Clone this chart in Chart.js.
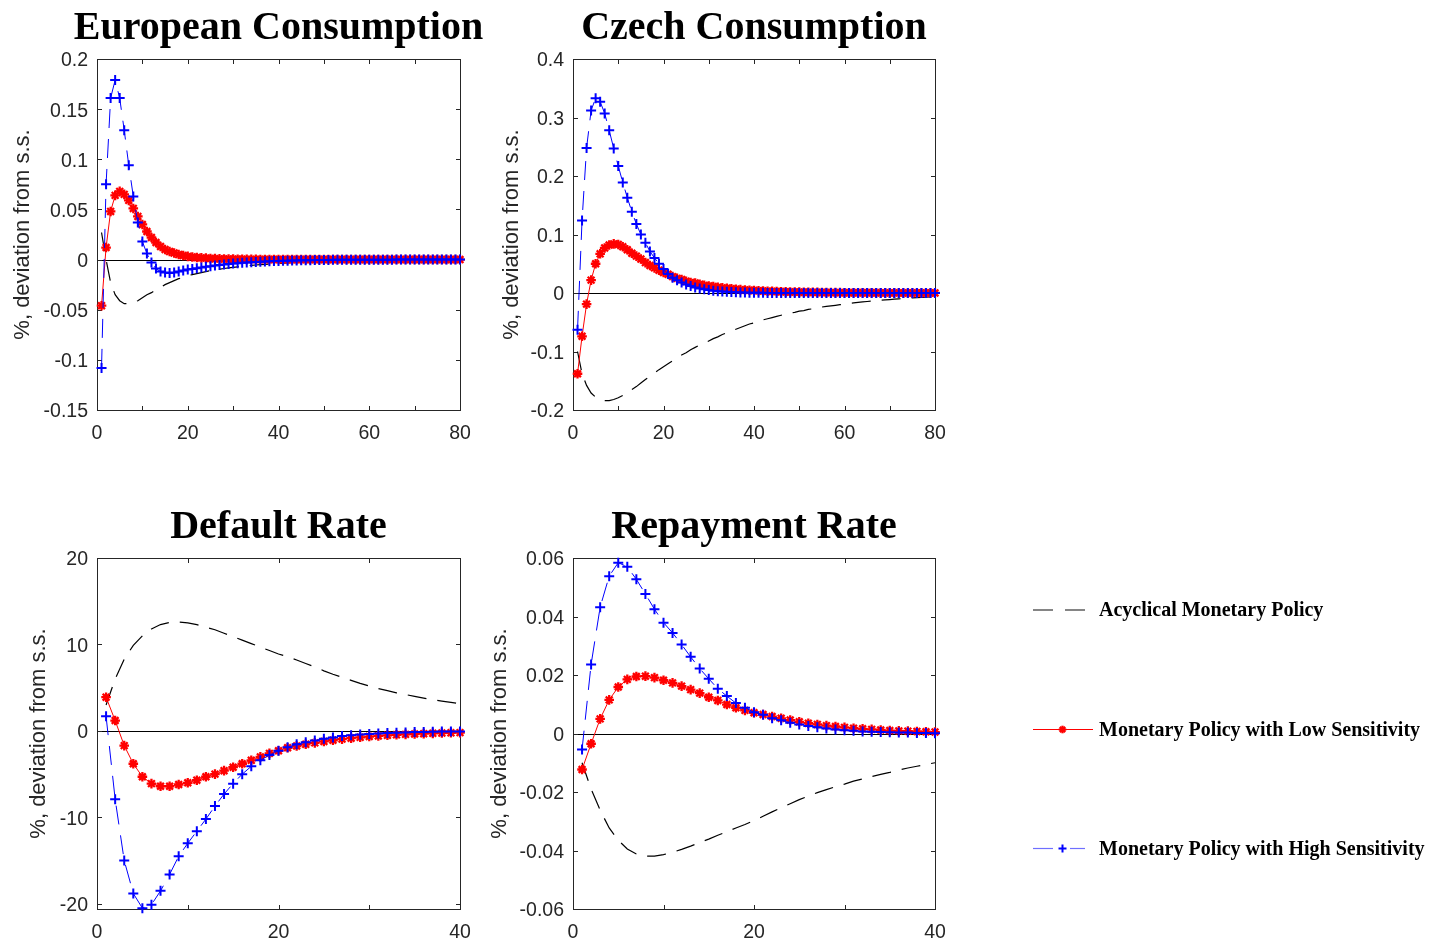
<!DOCTYPE html>
<html><head><meta charset="utf-8">
<script src="https://cdn.jsdelivr.net/npm/chart.js@4.4.1/dist/chart.umd.min.js"></script>
<style>
html,body{margin:0;padding:0;background:#fff;width:1431px;height:944px;overflow:hidden;}
body{position:relative;}
canvas{position:absolute;}
svg{position:absolute;left:0;top:0;}
</style></head><body>
<canvas id="c1" width="490" height="460" style="left:0px;top:0px;width:490px;height:460px"></canvas>
<canvas id="c2" width="490" height="460" style="left:480px;top:0px;width:490px;height:460px"></canvas>
<canvas id="c3" width="490" height="474" style="left:0px;top:470px;width:490px;height:474px"></canvas>
<canvas id="c4" width="490" height="474" style="left:480px;top:470px;width:490px;height:474px"></canvas>
<svg id="leg" width="1431" height="944"></svg>
<script>
// ---------------- DATA ----------------
const seriesNames = ['Acyclical Monetary Policy','Monetary Policy with Low Sensitivity','Monetary Policy with High Sensitivity'];
const titles = ['European Consumption','Czech Consumption','Default Rate','Repayment Rate'];
const yAxisTitle = '%, deviation from s.s.';

const euHigh = [-0.108,0.075,0.161,0.179,0.161,0.129,0.094,0.063,0.037,0.018,
 0.006,-0.003,-0.009,-0.012,-0.013,-0.0135,-0.013,-0.012,-0.011,-0.010,
 -0.0093,-0.0086,-0.0079,-0.0072,-0.0066,-0.0060,-0.0054,-0.0049,-0.0044,-0.0040,
 -0.0036,-0.0032,-0.0029,-0.0026,-0.0023,-0.0021,-0.0019,-0.0017,-0.0015,-0.0013,
 -0.0012,-0.0011,-0.0010,-0.0009,-0.0008,-0.0007,-0.0006,-0.0005,-0.0005,-0.0004,
 -0.0004,-0.0003,-0.0003,-0.0003,-0.0002,-0.0002,-0.0002,-0.0002,-0.0001,-0.0001,
 -0.0001,-0.0001,-0.0001,-0.0001,-0.0001,0,0,0,0,0,
 0,0,0,0,0,0,0,0,0,0];
const euLow = [-0.046,0.012,0.048,0.064,0.068,0.065,0.059,0.051,0.043,0.035,
 0.028,0.022,0.017,0.013,0.010,0.008,0.0065,0.005,0.004,0.0032,
 0.0026,0.0021,0.0017,0.0014,0.0011,0.0009,0.0007,0.0006,0.0005,0.0004,
 0.0003,0.0003,0.0002,0.0002,0.0002,0.0001,0.0001,0.0001,0.0001,0.0001,
 0,0,0,0,0,0,0,0,0,0,
 0,0,0,0,0,0,0,0,0,0,
 0,0,0,0,0,0,0,0,0,0,
 0,0,0,0,0,0,0,0,0,0];
const euAcyc = [0.027,0.000,-0.023,-0.035,-0.041,-0.044,-0.044,-0.043,-0.041,-0.038,
 -0.035,-0.033,-0.030,-0.028,-0.025,-0.023,-0.021,-0.019,-0.018,-0.016,
 -0.015,-0.014,-0.013,-0.012,-0.011,-0.0103,-0.0096,-0.0089,-0.0083,-0.0077,
 -0.0072,-0.0067,-0.0062,-0.0058,-0.0054,-0.0050,-0.0047,-0.0044,-0.0041,-0.0038,
 -0.0036,-0.0033,-0.0031,-0.0029,-0.0027,-0.0025,-0.0024,-0.0022,-0.0021,-0.0019,
 -0.0018,-0.0017,-0.0016,-0.0015,-0.0014,-0.0013,-0.0012,-0.0011,-0.0011,-0.0010,
 -0.0009,-0.0009,-0.0008,-0.0008,-0.0007,-0.0007,-0.0006,-0.0006,-0.0006,-0.0005,
 -0.0005,-0.0005,-0.0004,-0.0004,-0.0004,-0.0004,-0.0003,-0.0003,-0.0003,-0.0003];

const czHigh = [-0.063,0.124,0.248,0.312,0.333,0.327,0.307,0.278,0.247,0.217,
 0.189,0.163,0.139,0.118,0.100,0.086,0.071,0.060,0.050,0.041,
 0.0325,0.026,0.022,0.018,0.0145,0.0118,0.0095,0.0077,0.0062,0.0050,
 0.0040,0.0032,0.0026,0.0021,0.0017,0.0013,0.0010,0.0008,0.0006,0.0005,
 0.0004,0.0003,0.0002,0.0002,0.0001,0.0001,0.0001,0.0001,0,0,
 0,0,0,0,0,0,0,0,0,0,
 0,0,0,0,0,0,0,0,0,0,
 0,0,0,0,0,0,0,0,0,0];
const czLow = [-0.138,-0.074,-0.019,0.022,0.050,0.067,0.077,0.082,0.084,0.083,
 0.079,0.074,0.068,0.063,0.058,0.052,0.047,0.043,0.039,0.035,
 0.032,0.028,0.025,0.023,0.020,0.018,0.017,0.015,0.013,0.012,
 0.011,0.0098,0.0088,0.0080,0.0072,0.0065,0.0058,0.0052,0.0047,0.0042,
 0.0038,0.0034,0.0031,0.0028,0.0025,0.0022,0.0020,0.0018,0.0016,0.0015,
 0.0013,0.0012,0.0011,0.0010,0.0009,0.0008,0.0007,0.0006,0.0006,0.0005,
 0.0005,0.0004,0.0004,0.0003,0.0003,0.0003,0.0003,0.0002,0.0002,0.0002,
 0.0002,0.0002,0.0001,0.0001,0.0001,0.0001,0.0001,0.0001,0.0001,0.0001];
const czAcyc = [-0.100,-0.138,-0.158,-0.171,-0.178,-0.182,-0.184,-0.184,-0.182,-0.179,
 -0.175,-0.170,-0.165,-0.160,-0.154,-0.148,-0.142,-0.137,-0.131,-0.126,
 -0.121,-0.116,-0.111,-0.106,-0.102,-0.097,-0.093,-0.089,-0.086,-0.082,
 -0.078,-0.075,-0.071,-0.068,-0.065,-0.062,-0.059,-0.056,-0.053,-0.051,
 -0.048,-0.046,-0.044,-0.042,-0.040,-0.038,-0.036,-0.034,-0.033,-0.031,
 -0.030,-0.028,-0.027,-0.025,-0.024,-0.023,-0.022,-0.021,-0.020,-0.019,
 -0.018,-0.017,-0.016,-0.0153,-0.0145,-0.0138,-0.0131,-0.0124,-0.0118,-0.0112,
 -0.0106,-0.0100,-0.0095,-0.0090,-0.0085,-0.0080,-0.0076,-0.0072,-0.0068,-0.0064];

const drHigh = [1.7,-7.9,-15.0,-18.8,-20.5,-20.1,-18.5,-16.6,-14.5,-13.0,
 -11.6,-10.2,-8.7,-7.3,-6.1,-5.0,-4.1,-3.4,-2.8,-2.3,
 -1.9,-1.55,-1.3,-1.1,-0.9,-0.75,-0.6,-0.5,-0.42,-0.35,
 -0.29,-0.24,-0.2,-0.17,-0.14,-0.12,-0.1,-0.08,-0.07,-0.06];
const drLow = [3.9,1.2,-1.7,-3.8,-5.3,-6.1,-6.4,-6.4,-6.2,-6.0,
 -5.7,-5.3,-5.0,-4.6,-4.2,-3.8,-3.4,-3.0,-2.6,-2.3,
 -1.95,-1.75,-1.55,-1.38,-1.22,-1.08,-0.95,-0.84,-0.74,-0.65,
 -0.58,-0.51,-0.45,-0.40,-0.36,-0.32,-0.28,-0.25,-0.22,-0.20];
const drAcyc = [3.0,6.0,8.3,9.9,11.0,11.8,12.3,12.55,12.6,12.5,
 12.3,12.0,11.7,11.3,10.9,10.5,10.1,9.7,9.3,8.9,
 8.6,8.2,7.8,7.4,6.95,6.55,6.2,5.85,5.5,5.2,
 4.9,4.65,4.4,4.2,4.0,3.8,3.6,3.45,3.3,3.15];

const rpHigh = [-0.0055,0.0236,0.0432,0.0538,0.0584,0.0570,0.0527,0.0477,0.0425,0.0379,
 0.0344,0.0304,0.0262,0.0222,0.0187,0.0153,0.0128,0.0104,0.0088,0.0073,
 0.0064,0.0052,0.0045,0.0037,0.0031,0.0026,0.0021,0.0017,0.0014,0.0011,
 0.0009,0.0007,0.0006,0.0005,0.0004,0.0003,0.0003,0.0002,0.0002,0.0001];
const rpLow = [-0.0123,-0.0035,0.0050,0.0115,0.0159,0.0185,0.0195,0.0196,0.0191,0.0182,
 0.0173,0.0162,0.0150,0.0138,0.0124,0.0113,0.0099,0.0088,0.0079,0.0071,
 0.0065,0.0058,0.0052,0.0046,0.0040,0.0035,0.0031,0.0027,0.0024,0.0021,
 0.0018,0.0016,0.0014,0.0012,0.0010,0.0009,0.0008,0.0007,0.0006,0.0005];
const rpAcyc = [-0.0100,-0.0190,-0.0262,-0.0323,-0.0365,-0.0395,-0.0412,-0.0419,-0.0419,-0.0414,
 -0.0406,-0.0396,-0.0385,-0.0373,-0.0361,-0.0348,-0.0336,-0.0323,-0.0311,-0.0298,
 -0.0283,-0.0268,-0.0254,-0.0240,-0.0226,-0.0214,-0.0202,-0.0192,-0.0182,-0.0173,
 -0.0163,-0.0155,-0.0147,-0.0140,-0.0133,-0.0125,-0.0118,-0.0112,-0.0106,-0.0100];

const xTicks80 = [0,10,20,30,40,50,60,70,80];
const xLabels80 = ['0','','20','','40','','60','','80'];
const xTicks40 = [0,10,20,30,40];
const xLabels40 = ['0','','20','','40'];
const yTicksEU = [-0.15,-0.1,-0.05,0,0.05,0.1,0.15,0.2];
const yLabelsEU = ['-0.15','-0.1','-0.05','0','0.05','0.1','0.15','0.2'];
const yTicksCZ = [-0.2,-0.1,0,0.1,0.2,0.3,0.4];
const yLabelsCZ = ['-0.2','-0.1','0','0.1','0.2','0.3','0.4'];
const yTicksDR = [-20,-10,0,10,20];
const yLabelsDR = ['-20','-10','0','10','20'];
const yTicksRP = [-0.06,-0.04,-0.02,0,0.02,0.04,0.06];
const yLabelsRP = ['-0.06','-0.04','-0.02','0','0.02','0.04','0.06'];

// ---------------- DRAWING ----------------
const AX = '#262626';
const framePlugin = {
  id: 'frame',
  beforeDatasetsDraw(chart, args, opts) {
    const {ctx, chartArea: a, scales: {x, y}} = chart;
    ctx.save();
    const L = Math.round(a.left) + 0.5, R = Math.round(a.right) + 0.5;
    const T = Math.round(a.top) + 0.5, B = Math.round(a.bottom) + 0.5;
    // zero reference line
    const y0 = Math.round(y.getPixelForValue(0)) + 0.5;
    ctx.strokeStyle = '#000'; ctx.lineWidth = 1;
    ctx.beginPath(); ctx.moveTo(L, y0); ctx.lineTo(R, y0); ctx.stroke();
    // box + inward ticks
    ctx.strokeStyle = AX;
    ctx.strokeRect(L, T, R - L, B - T);
    const tl = 4.5;
    ctx.beginPath();
    x.ticks.forEach(t => {
      const px = Math.round(x.getPixelForValue(t.value)) + 0.5;
      ctx.moveTo(px, B); ctx.lineTo(px, B - tl);
      ctx.moveTo(px, T); ctx.lineTo(px, T + tl);
    });
    y.ticks.forEach(t => {
      const py = Math.round(y.getPixelForValue(t.value)) + 0.5;
      ctx.moveTo(L, py); ctx.lineTo(L + tl, py);
      ctx.moveTo(R, py); ctx.lineTo(R - tl, py);
    });
    ctx.stroke();
    // title
    ctx.fillStyle = '#000';
    ctx.font = 'bold 40px "Liberation Serif"';
    ctx.textAlign = 'center'; ctx.textBaseline = 'alphabetic';
    ctx.fillText(opts.text, (a.left + a.right) / 2, a.top - 20);
    ctx.restore();
  }
};

function makeChart(id, title, acyc, low, high, xT, xL, xMax, yT, yL, yMin, yMax, area) {
  const pts = arr => arr.map((v, i) => ({x: i + 1, y: v}));
  return new Chart(document.getElementById(id), {
    type: 'line',
    data: {datasets: [
      {label: seriesNames[2], data: pts(high), borderColor: '#0000ff', borderWidth: 1, borderDash: [19, 11],
       pointStyle: 'cross', pointRadius: 5, pointBorderWidth: 2, pointBorderColor: '#0000ff', pointBackgroundColor: '#0000ff', clip: 12},
      {label: seriesNames[1], data: pts(low), borderColor: '#ff0000', borderWidth: 1,
       pointStyle: 'star', pointRadius: 4.8, pointBorderWidth: 2.3, pointBorderColor: '#ff0000', pointBackgroundColor: '#ff0000', clip: 12},
      {label: seriesNames[0], data: pts(acyc), borderColor: '#000000', borderWidth: 1.2, borderDash: [19, 11],
       pointRadius: 0, clip: 2}
    ]},
    options: {
      responsive: false, animation: false, events: [],
      layout: {padding: {left: 0, top: area.top, right: area.right, bottom: 0}},
      plugins: {legend: {display: false}, tooltip: {enabled: false}, frame: {text: title}},
      scales: {
        x: {type: 'linear', min: 0, max: xMax,
            grid: {display: false, drawTicks: false}, border: {display: false},
            afterBuildTicks: s => { s.ticks = xT.map(v => ({value: v})); },
            afterFit: s => { s.height = area.xh; },
            ticks: {autoSkip: false, maxRotation: 0, minRotation: 0, padding: 12, color: AX,
                    font: {family: 'Liberation Sans', size: 19.5}, callback: (v, i) => xL[i]}},
        y: {type: 'linear', min: yMin, max: yMax,
            grid: {display: false, drawTicks: false}, border: {display: false},
            afterBuildTicks: s => { s.ticks = yT.map(v => ({value: v})); },
            afterFit: s => { s.width = area.left; },
            ticks: {autoSkip: false, padding: 9, labelOffset: 2, color: AX,
                    font: {family: 'Liberation Sans', size: 19.5}, callback: (v, i) => yL[i]},
            title: {display: true, text: yAxisTitle, color: AX,
                    font: {family: 'Liberation Sans', size: 22}, padding: {top: area.tpad, bottom: 0}}}
      }
    },
    plugins: [framePlugin]
  });
}

makeChart('c1', titles[0], euAcyc, euLow, euHigh, xTicks80, xLabels80, 80, yTicksEU, yLabelsEU, -0.15, 0.2,
  {left: 97, top: 59, right: 30, xh: 50, tpad: 9.3});
makeChart('c2', titles[1], czAcyc, czLow, czHigh, xTicks80, xLabels80, 80, yTicksCZ, yLabelsCZ, -0.2, 0.4,
  {left: 93, top: 59, right: 35, xh: 50, tpad: 18.3});
makeChart('c3', titles[2], drAcyc, drLow, drHigh, xTicks40, xLabels40, 40, yTicksDR, yLabelsDR, -20.6, 20,
  {left: 97, top: 88, right: 30, xh: 35, tpad: 25.3});
makeChart('c4', titles[3], rpAcyc, rpLow, rpHigh, xTicks40, xLabels40, 40, yTicksRP, yLabelsRP, -0.06, 0.06,
  {left: 93, top: 88, right: 35, xh: 35, tpad: 6.3});

// ---------------- LEGEND ----------------
(function () {
  const NS = 'http://www.w3.org/2000/svg';
  const svg = document.getElementById('leg');
  const add = (tag, attrs, text) => {
    const e = document.createElementNS(NS, tag);
    for (const k in attrs) e.setAttribute(k, attrs[k]);
    if (text) e.textContent = text;
    svg.appendChild(e); return e;
  };
  const rows = [610, 729.5, 848.5];
  add('line', {x1: 1033, y1: rows[0], x2: 1053, y2: rows[0], stroke: '#333', 'stroke-width': 1.2});
  add('line', {x1: 1065, y1: rows[0], x2: 1085, y2: rows[0], stroke: '#333', 'stroke-width': 1.2});
  add('line', {x1: 1033, y1: rows[1], x2: 1093, y2: rows[1], stroke: '#ff0000', 'stroke-width': 1});
  [0, 45, 90, 135].forEach(a => {
    const r = 3.8, c = Math.cos(a * Math.PI / 180) * r, s = Math.sin(a * Math.PI / 180) * r;
    add('line', {x1: 1062.5 - c, y1: rows[1] - s, x2: 1062.5 + c, y2: rows[1] + s, stroke: '#ff0000', 'stroke-width': 2.3});
  });
  add('line', {x1: 1033, y1: rows[2], x2: 1053, y2: rows[2], stroke: '#6f6fff', 'stroke-width': 1.2});
  add('line', {x1: 1070, y1: rows[2], x2: 1085, y2: rows[2], stroke: '#6f6fff', 'stroke-width': 1.2});
  add('line', {x1: 1058.5, y1: rows[2], x2: 1066.5, y2: rows[2], stroke: '#0000ff', 'stroke-width': 2});
  add('line', {x1: 1062.5, y1: rows[2] - 4, x2: 1062.5, y2: rows[2] + 4, stroke: '#0000ff', 'stroke-width': 2});
  seriesNames.forEach((n, i) => {
    add('text', {x: 1099, y: rows[i] + 6.3, 'font-family': 'Liberation Serif', 'font-weight': 'bold',
                 'font-size': 20, fill: '#000'}, n);
  });
})();
</script>
</body></html>
